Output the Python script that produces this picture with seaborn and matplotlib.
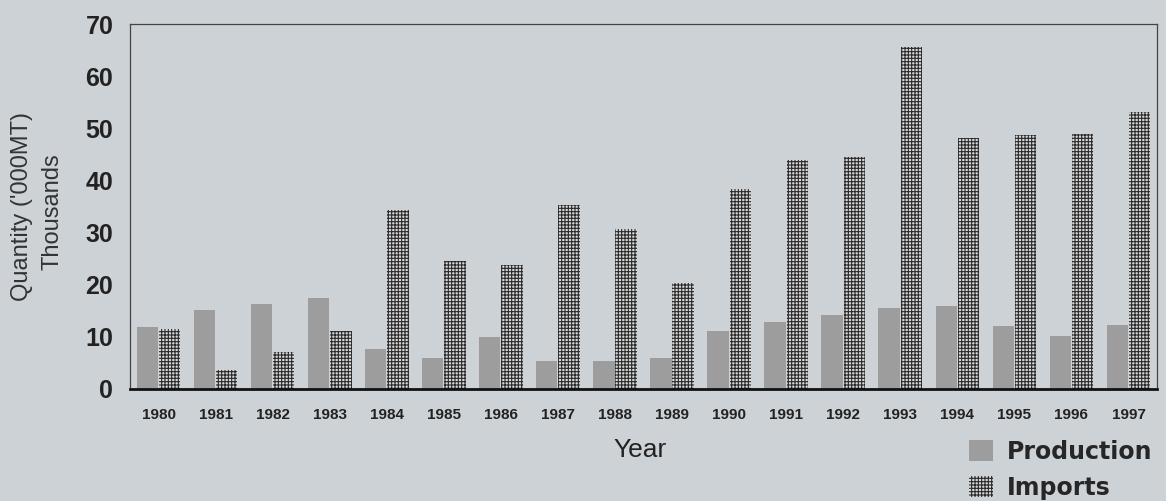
import matplotlib.pyplot as plt
import seaborn as sns
import pandas as pd

years = ['1980', '1981', '1982', '1983', '1984', '1985', '1986', '1987', '1988',
         '1989', '1990', '1991', '1992', '1993', '1994', '1995', '1996', '1997']
production = [11.9, 15.2, 16.3, 17.4, 7.6, 5.9, 9.9, 5.3, 5.3,
              5.9, 11.1, 12.9, 14.2, 15.6, 16.0, 12.0, 10.1, 12.2]
imports = [11.5, 3.6, 7.1, 11.2, 34.4, 24.6, 23.8, 35.3, 30.6,
           20.4, 38.3, 44.0, 44.5, 65.6, 48.1, 48.8, 49.0, 53.1]

df = pd.DataFrame({'Year': years * 2,
                   'Value': production + imports,
                   'Series': ['Production'] * len(years) + ['Imports'] * len(years)})

bg = '#cdd2d6'
sns.set_style('white')
plt.rcParams['font.family'] = ['Liberation Sans', 'DejaVu Sans']
plt.rcParams['hatch.linewidth'] = 0.8

fig = plt.figure(figsize=(11.66, 5.01), dpi=100, facecolor=bg)
ax = fig.add_axes([0.1115, 0.2236, 0.8808, 0.7284])
ax.set_facecolor(bg)

sns.barplot(data=df, x='Year', y='Value', hue='Series', ax=ax,
            palette={'Production': '#9d9d9d', 'Imports': '#d8d8d8'},
            width=0.78, gap=0.04, legend=False)

# production: flat grey, imports: dotted grid
for bar in ax.containers[0]:
    bar.set_linewidth(0)
for bar in ax.containers[1]:
    bar.set_hatch('+++++')
    bar.set_edgecolor('#2a2a2a')
    bar.set_linewidth(0)

ax.set_ylim(0, 70)
ax.set_yticks(range(0, 71, 10))
ax.tick_params(axis='y', length=0, pad=12, labelsize=18)
ax.tick_params(axis='x', length=0, pad=14, labelsize=11)
for lab in ax.get_yticklabels() + ax.get_xticklabels():
    lab.set_fontweight('bold')
    lab.set_color('#222222')

ax.set_ylabel('')
ax.set_xlabel('Year', fontsize=19, color='#222222')
ax.xaxis.set_label_coords(0.4966, -0.135)

for side in ['top', 'left', 'right']:
    ax.spines[side].set_linewidth(0.9)
    ax.spines[side].set_color('#444444')
ax.spines['bottom'].set_linewidth(2)
ax.spines['bottom'].set_color('#111111')

fig.text(0.019, 0.588, "Quantity ('000MT)", rotation=90, ha='center', va='center',
         fontsize=17, color='#333333')
fig.text(0.045, 0.578, 'Thousands', rotation=90, ha='center', va='center',
         fontsize=17, color='#333333')

handles = [ax.containers[0][0], ax.containers[1][0]]
fig.legend(handles, ['Production', 'Imports'], loc='upper left',
           bbox_to_anchor=(0.831, 0.122), frameon=False,
           prop={'family': 'DejaVu Sans', 'weight': 'bold', 'size': 17},
           handlelength=1, handleheight=1,
           handletextpad=0.6, labelspacing=0.5, borderpad=0, borderaxespad=0)

plt.savefig('out.png', dpi=100, facecolor=bg)
plt.close()
